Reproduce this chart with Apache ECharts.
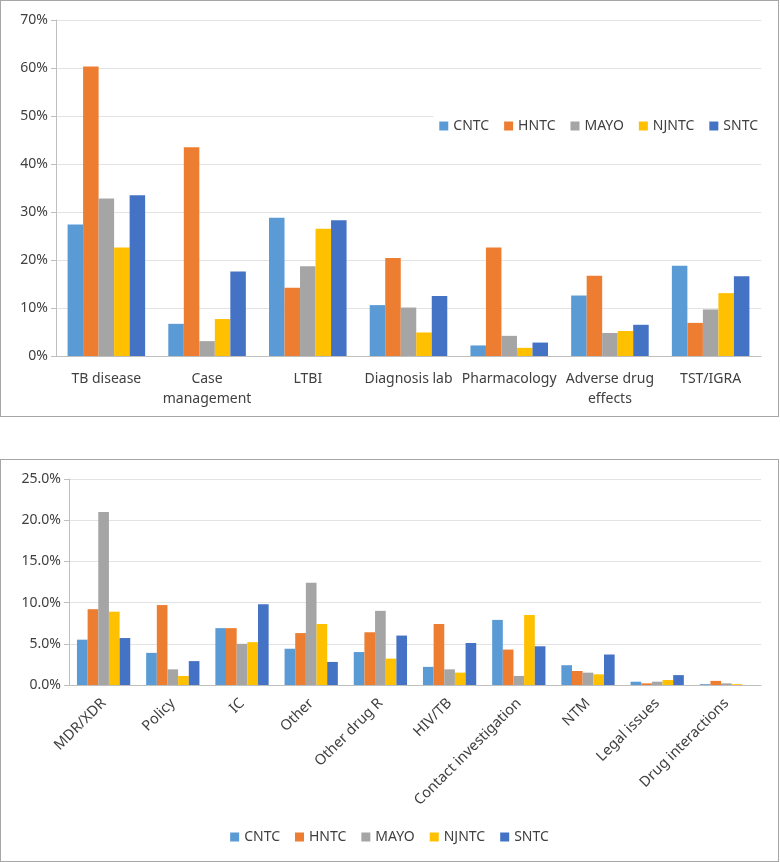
<!DOCTYPE html>
<html>
<head>
    <meta charset="utf-8">
    <title>ECharts</title>
    <script src="https://cdn.jsdelivr.net/npm/echarts@6/dist/echarts.min.js"></script>
    <style type="text/css">
    body { margin: 0; background: #fff; }
    .box {
        position: absolute;
        left: 0;
        width: 777px;
        border: 1px solid #a6a6a6;
    }
    </style>
</head>
<body>
    <div id="top" class="box" style="top:0;height:415px;"></div>
    <div id="bottom" class="box" style="top:459px;height:401px;"></div>
    <script type="text/javascript">
        // series names
        var centers = ['CNTC', 'HNTC', 'MAYO', 'NJNTC', 'SNTC'];
        var colors = ['#5B9BD5', '#ED7D31', '#A5A5A5', '#FFC000', '#4472C4'];

        // top chart: categories and values (%)
        var topCats = ['TB disease', 'Case\nmanagement', 'LTBI', 'Diagnosis lab', 'Pharmacology', 'Adverse drug\neffects', 'TST/IGRA'];
        var topCNTC  = [27.4, 6.7, 28.8, 10.6, 2.2, 12.6, 18.8];
        var topHNTC  = [60.3, 43.5, 14.2, 20.4, 22.6, 16.7, 6.9];
        var topMAYO  = [32.8, 3.1, 18.7, 10.1, 4.2, 4.8, 9.7];
        var topNJNTC = [22.6, 7.7, 26.5, 4.9, 1.7, 5.2, 13.1];
        var topSNTC  = [33.5, 17.6, 28.3, 12.5, 2.8, 6.5, 16.6];

        // bottom chart: categories and values (%)
        var botCats = ['MDR/XDR', 'Policy', 'IC', 'Other', 'Other drug R', 'HIV/TB', 'Contact investigation', 'NTM', 'Legal issues', 'Drug interactions'];
        var botCNTC  = [5.5, 3.9, 6.9, 4.4, 4.0, 2.2, 7.9, 2.4, 0.4, 0.1];
        var botHNTC  = [9.2, 9.7, 6.9, 6.3, 6.4, 7.4, 4.3, 1.7, 0.2, 0.5];
        var botMAYO  = [21.0, 1.9, 5.0, 12.4, 9.0, 1.9, 1.1, 1.5, 0.4, 0.2];
        var botNJNTC = [8.9, 1.1, 5.2, 7.4, 3.2, 1.5, 8.5, 1.3, 0.6, 0.1];
        var botSNTC  = [5.7, 2.9, 9.8, 2.8, 6.0, 5.1, 4.7, 3.7, 1.2, 0.0];

        var font = 'Noto Sans';
        var axisColor = '#bfbfbf';

        function makeSeries(list) {
            return list.map(function (d, i) {
                return {
                    name: centers[i],
                    type: 'bar',
                    data: d,
                    barGap: '0%',
                    barCategoryGap: '23%',
                    itemStyle: { color: colors[i] }
                };
            });
        }

        function makeLegend(pos) {
            var lg = {
                data: centers,
                icon: 'rect',
                itemWidth: 9,
                itemHeight: 9,
                itemGap: 15,
                textStyle: { fontFamily: font, fontSize: 14, color: '#404040' }
            };
            for (var k in pos) lg[k] = pos[k];
            return lg;
        }

        // top chart
        var topChart = echarts.init(document.getElementById('top'));
        topChart.setOption({
            animation: false,
            grid: { left: 55, right: 17, top: 19, bottom: 60 },
            legend: makeLegend({
                right: 14, top: 107, padding: [11, 6],
                backgroundColor: '#fff', z: 10
            }),
            xAxis: {
                type: 'category',
                data: topCats,
                axisLine: { lineStyle: { color: axisColor } },
                axisTick: { length: 5, lineStyle: { color: axisColor } },
                axisLabel: { interval: 0, fontFamily: font, fontSize: 14, color: '#404040', margin: 13, lineHeight: 20 }
            },
            yAxis: {
                type: 'value',
                min: 0, max: 70, interval: 10,
                axisLine: { show: true, lineStyle: { color: axisColor } },
                axisTick: { show: true, length: 5, lineStyle: { color: axisColor } },
                splitLine: { lineStyle: { color: '#e3e3e3' } },
                axisLabel: { formatter: '{value}%', fontFamily: font, fontSize: 14, color: '#404040', margin: 8 }
            },
            series: makeSeries([topCNTC, topHNTC, topMAYO, topNJNTC, topSNTC])
        });

        // bottom chart
        var botChart = echarts.init(document.getElementById('bottom'));
        botChart.setOption({
            animation: false,
            grid: { left: 68, right: 17, top: 19, bottom: 176 },
            legend: makeLegend({ left: 'center', bottom: 12 }),
            xAxis: {
                type: 'category',
                data: botCats,
                axisLine: { lineStyle: { color: axisColor } },
                axisTick: { length: 5, lineStyle: { color: axisColor } },
                axisLabel: { fontFamily: font, fontSize: 14.5, color: '#404040', rotate: 45, interval: 0, margin: 16 }
            },
            yAxis: {
                type: 'value',
                min: 0, max: 25, interval: 5,
                axisLine: { show: true, lineStyle: { color: axisColor } },
                axisTick: { show: true, length: 5, lineStyle: { color: axisColor } },
                splitLine: { lineStyle: { color: '#e3e3e3' } },
                axisLabel: {
                    formatter: function (v) { return v.toFixed(1) + '%'; },
                    fontFamily: font, fontSize: 14, color: '#404040', margin: 8
                }
            },
            series: makeSeries([botCNTC, botHNTC, botMAYO, botNJNTC, botSNTC])
        });
    </script>
</body>
</html>
